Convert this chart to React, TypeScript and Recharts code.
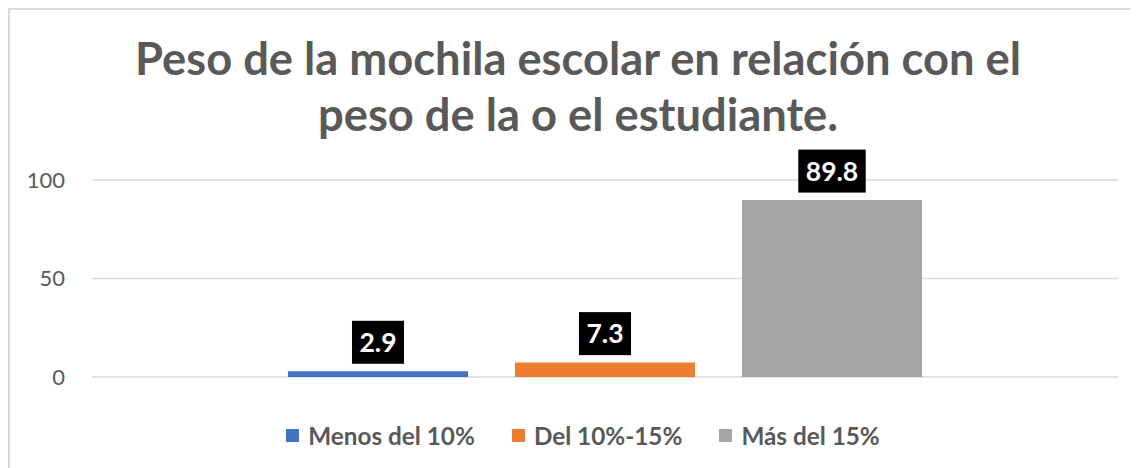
import { BarChart, Bar, XAxis, YAxis, CartesianGrid, Legend, LabelList } from 'recharts';

const categories = ['Peso'];
const seriesNames = ['Menos del 10%', 'Del 10%-15%', 'Más del 15%'];
const seriesValues = [2.9, 7.3, 89.8];
const yTicks = [0, 50, 100];
const titleLines = ['Peso de la mochila escolar en relación con el', 'peso de la o el estudiante.'];

const colors = ['#4472c4', '#ed7d31', '#a5a5a5'];
const FONT = 'Lato, "Open Sans", sans-serif';
const GREY = '#595959';

const data = categories.map((name) => {
  const row: any = { name };
  seriesNames.forEach((_, i) => {
    row[`s${i}`] = seriesValues[i];
  });
  return row;
});

const measure = (text: string, font: string) => {
  const ctx = document.createElement('canvas').getContext('2d');
  if (!ctx) return text.length * 15;
  ctx.font = font;
  return ctx.measureText(text).width;
};

const BoxLabel = (props: any) => {
  const { x, y, width, value } = props;
  const label = String(value);
  const fs = 26.5;
  const w = measure(label, `bold ${fs}px Lato`) + 15;
  const h = 43;
  const cx = x + width / 2;
  const bottom = y - 7.5;
  return (
    <g>
      <rect x={cx - w / 2} y={bottom - h} width={w} height={h} fill="#000" />
      <text x={cx} y={bottom - h / 2 + fs * 0.36} textAnchor="middle" fill="#fff" fontSize={fs} fontWeight="bold" fontFamily={FONT}>
        {label}
      </text>
    </g>
  );
};

// legend in series order (recharts sorts by name otherwise)
const LegendContent = () => (
  <div style={{ display: 'flex', justifyContent: 'center', paddingLeft: 18, fontFamily: FONT }}>
    {seriesNames.map((n, i) => (
      <div key={n} style={{ display: 'flex', alignItems: 'center', marginRight: i < seriesNames.length - 1 ? 37 : 0 }}>
        <span style={{ width: 13, height: 13, background: colors[i], marginRight: 9, display: 'inline-block' }} />
        <span style={{ fontSize: 24.3, fontWeight: 'bold', color: GREY }}>{n}</span>
      </div>
    ))}
  </div>
);

export default function App() {
  return (
    <div style={{ position: 'relative', width: 1132, height: 470, border: '2px solid #d9d9d9', background: '#fff' }}>
      <svg width={1128} height={160} style={{ position: 'absolute', left: 0, top: 0 }}>
        {titleLines.map((t, i) => (
          <text key={i} x={568} y={65 + i * 56} textAnchor="middle" fill={GREY} fontSize={45.3} fontWeight="bold" fontFamily={FONT}>
            {t}
          </text>
        ))}
      </svg>
      <BarChart width={1128} height={458} data={data} margin={{ top: 170, right: 20, bottom: 62, left: 0 }} barCategoryGap={196} barGap={47}>
        <CartesianGrid vertical={false} stroke="#d9d9d9" strokeWidth={1.5} />
        <XAxis dataKey="name" hide />
        <YAxis
          width={82}
          domain={[0, 100]}
          ticks={yTicks}
          axisLine={false}
          tickLine={false}
          tickMargin={21}
          tick={{ fontSize: 22, fill: GREY, fontFamily: FONT }}
        />
        <Legend content={<LegendContent />} wrapperStyle={{ top: 411, left: 0, width: 1128 }} />
        {seriesNames.map((n, i) => (
          <Bar key={n} dataKey={`s${i}`} name={n} fill={colors[i]} isAnimationActive={false}>
            <LabelList dataKey={`s${i}`} content={<BoxLabel />} />
          </Bar>
        ))}
      </BarChart>
    </div>
  );
}
